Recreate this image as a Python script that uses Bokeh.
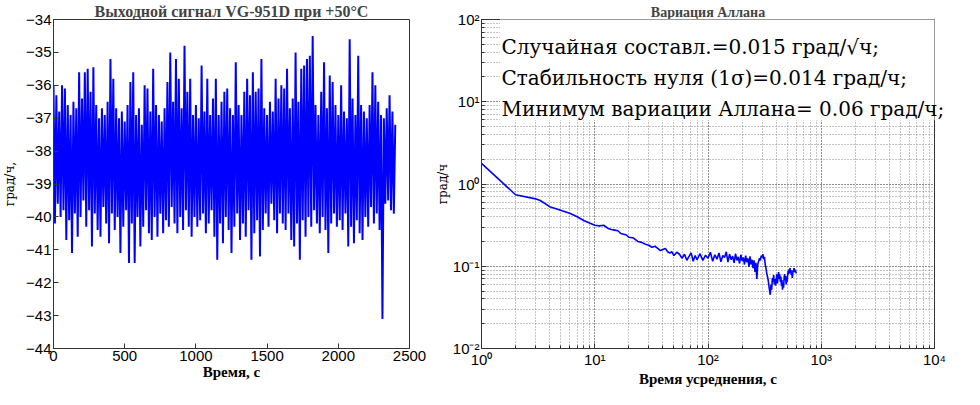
from bokeh.plotting import figure
from bokeh.layouts import row
from bokeh.models import SingleIntervalTicker, LogTicker, CustomJSTickFormatter, Range1d
from bokeh.core.properties import value
from bokeh.embed import file_html
from bokeh.resources import INLINE

# ---------------- data: output signal (left panel) ----------------
# upper excursions, every 20 s starting at 0 s
sig_high_t = list(range(0, 2401, 20))
sig_high = [
    -36.0, -36.3, -36.8, -36.0, -36.1, -36.6, -36.9, -36.5, -36.7, -35.6,
    -36.4, -35.6, -35.5, -36.2, -35.45, -36.6, -37.0, -36.7, -36.9, -36.5,
    -35.2, -35.8, -36.7, -37.0, -36.8, -37.1, -36.6, -35.9, -35.6, -36.9,
    -36.7, -37.2, -36.0, -36.1, -36.8, -35.5, -36.6, -36.9, -37.1, -36.7,
    -35.9, -35.0, -36.5, -35.2, -35.8, -36.7, -34.8, -36.2, -35.8, -36.9,
    -36.6, -37.0, -35.4, -36.8, -35.8, -36.9, -36.4, -35.8, -36.9, -36.5,
    -36.2, -36.1, -36.7, -36.9, -35.3, -36.6, -36.9, -36.2, -35.8, -36.3,
    -35.6, -36.2, -36.1, -35.2, -36.7, -36.9, -36.5, -36.8, -35.8, -36.4,
    -36.0, -36.1, -35.5, -36.7, -36.4, -35.0, -36.5, -35.5, -35.4, -35.2,
    -35.1, -34.5, -36.6, -36.9, -36.2, -35.3, -36.7, -35.7, -35.9, -36.6,
    -36.9, -36.0, -36.8, -37.0, -34.6, -36.4, -36.9, -35.1, -36.6, -36.8,
    -37.0, -36.6, -35.6, -36.0, -36.5, -36.9, -37.0, -36.7, -36.3, -36.8,
    -37.2,
]
# lower excursions, every 20 s starting at 10 s
sig_low_t = list(range(10, 2400, 20))
sig_low = [
    -40.2, -39.6, -40.0, -39.8, -40.7, -40.1, -41.1, -39.9, -40.6, -40.0,
    -39.5, -40.3, -39.8, -40.9, -39.9, -40.4, -40.6, -39.7, -40.2, -40.8,
    -39.9, -40.4, -40.0, -41.1, -40.3, -39.8, -41.4, -40.2, -41.4, -40.0,
    -40.9, -40.3, -39.8, -40.5, -40.7, -40.0, -40.6, -39.9, -40.5, -40.1,
    -40.3, -39.7, -40.2, -40.5, -40.0, -40.4, -39.8, -40.3, -40.6, -40.0,
    -40.3, -40.1, -39.9, -40.5, -40.2, -39.8, -40.6, -41.3, -40.2, -40.8,
    -40.0, -40.4, -41.1, -40.3, -39.9, -40.7, -40.2, -40.6, -39.8, -41.3,
    -40.5, -40.1, -41.2, -40.4, -39.9, -40.3, -39.6, -40.1, -40.5, -39.9,
    -40.2, -40.4, -39.9, -40.7, -40.9, -40.2, -41.3, -40.1, -40.6, -40.0,
    -40.3, -39.8, -40.2, -40.5, -40.0, -40.4, -41.1, -40.2, -39.9, -40.3,
    -40.1, -40.4, -39.9, -40.9, -40.3, -40.8, -40.1, -40.5, -40.7, -40.0,
    -40.3, -39.7, -40.2, -39.9, -40.4, -43.1, -39.6, -39.5, -39.8, -39.9,
]

# ---------------- data: Allan deviation (right panel) ----------------
tau = [1, 2, 3, 3.3, 4, 5, 6, 7, 8, 9, 10, 11, 12, 13, 14, 15, 16, 17, 18, 19,
       20, 22, 24, 26, 28, 30, 32, 34, 36, 38, 40, 42, 44, 46, 48, 50, 53, 56, 59, 62,
       65, 68, 71, 74, 77,
       80, 85, 90, 95, 100, 105, 110, 115, 120, 125, 130, 135, 140, 145, 150, 155,
       160, 165, 170, 175, 180, 185, 190, 195, 200, 205, 210, 215, 220, 225, 230,
       235, 240, 245, 250, 255, 260, 265, 270, 275, 280, 285, 290, 295, 300,
       305, 310, 315, 320, 325, 330, 335, 340, 345, 350, 355, 360, 365, 370, 375,
       380, 385, 390, 395, 400, 405, 410, 415, 420, 425, 430, 435, 440, 445, 450,
       455, 460, 465, 470, 475, 480, 485, 490, 495, 500, 505, 510, 515, 520, 525,
       530, 535, 540, 545, 550, 555, 560, 565, 570, 575, 580, 585, 590, 595, 600]
adev = [1.78, 0.74, 0.66, 0.63, 0.53, 0.48, 0.44, 0.40, 0.36, 0.335, 0.315, 0.31, 0.315,
        0.29, 0.28, 0.275, 0.27, 0.25, 0.245, 0.24,
        0.225, 0.22, 0.20, 0.195, 0.185, 0.18, 0.17, 0.175, 0.165, 0.155, 0.16, 0.165,
        0.15, 0.145, 0.15, 0.135, 0.148, 0.14, 0.125, 0.14,
        0.118, 0.132, 0.145, 0.115, 0.135,
        0.120, 0.142, 0.118, 0.136, 0.125, 0.148, 0.115, 0.138, 0.122, 0.145, 0.113,
        0.135, 0.128, 0.150, 0.112, 0.140,
        0.120, 0.133, 0.110, 0.142, 0.118, 0.130, 0.108, 0.138, 0.116, 0.128, 0.105,
        0.135, 0.112, 0.125, 0.098,
        0.132, 0.105, 0.120, 0.095, 0.118, 0.085, 0.110, 0.070, 0.105, 0.115, 0.125,
        0.118, 0.135, 0.128,
        0.140, 0.122, 0.130, 0.105, 0.095, 0.082, 0.075, 0.068, 0.058, 0.050, 0.045,
        0.060, 0.052, 0.072, 0.065,
        0.078, 0.060, 0.070, 0.058, 0.066, 0.080, 0.062, 0.072, 0.085, 0.070, 0.080,
        0.065, 0.075, 0.058, 0.068,
        0.052, 0.062, 0.055, 0.072, 0.080, 0.068, 0.076, 0.060, 0.070, 0.065, 0.078,
        0.088, 0.080, 0.092, 0.085,
        0.095, 0.082, 0.090, 0.078, 0.086, 0.072, 0.082, 0.090, 0.085, 0.095, 0.088,
        0.092, 0.084, 0.088, 0.082]

title_left = "Выходной сигнал VG-951D при +50°C"
title_right = "Вариация Аллана"
xlabel_left = "Время, с"
ylabel_left = "град/ч,"
xlabel_right = "Время усреднения, с"
ylabel_right = "град/ч"
notes = ["Случайная составл.=0.015 град/√ч;",
         "Стабильность нуля (1σ)=0.014 град/ч;",
         "Минимум вариации Аллана= 0.06 град/ч;"]
note_x = [1.5, 1.5, 1.5]
note_y = [46.0, 19.3, 8.25]

BLUE = "#0000ff"
SANS = "Liberation Sans"
SERIF = "Liberation Serif"
SERIF_REG = "DejaVu Serif"

# interleave highs and lows (time order)
pairs = sorted(list(zip(sig_high_t, sig_high)) + list(zip(sig_low_t, sig_low)))
sig_t = [a for a, b in pairs]
sig_v = [b for a, b in pairs]


def style_axis(ax):
    ax.major_label_text_font = SANS
    ax.major_label_text_font_size = "15px"
    ax.major_label_text_color = "black"
    ax.major_tick_in = 5
    ax.major_tick_out = 0
    ax.minor_tick_in = 3
    ax.minor_tick_out = 0
    ax.axis_line_color = "#333333"
    ax.major_tick_line_color = "#333333"
    ax.minor_tick_line_color = "#333333"
    ax.major_label_standoff = 2
    ax.axis_label_text_font = SERIF
    ax.axis_label_text_font_style = "bold"
    ax.axis_label_text_font_size = "15px"
    ax.axis_label_text_color = "black"
    ax.axis_label_standoff = 0


# ---------------- left panel ----------------
p1 = figure(width=432, height=389, x_range=Range1d(0, 2500), y_range=Range1d(-44, -34),
            output_backend="svg", toolbar_location=None,
            min_border_left=51, min_border_right=23, min_border_top=17, min_border_bottom=36)
p1.title.text = title_left
p1.title.align = "center"
p1.title.text_font = SERIF
p1.title.text_font_size = "16px"
p1.title.text_font_style = "bold"
p1.title.standoff = 0
p1.title.offset = 0
p1.outline_line_color = "#333333"
p1.grid.visible = False

p1.line(sig_t, sig_v, line_color=BLUE, line_width=2)

p1.xaxis.ticker = SingleIntervalTicker(interval=500, num_minor_ticks=0)
p1.yaxis.ticker = SingleIntervalTicker(interval=1, num_minor_ticks=0)
p1.xaxis.axis_label = xlabel_left
p1.yaxis.axis_label = ylabel_left
style_axis(p1.xaxis[0])
style_axis(p1.yaxis[0])
p1.yaxis[0].axis_label_text_font = SERIF_REG
p1.yaxis[0].axis_label_text_font_style = "normal"
p1.yaxis[0].axis_label_text_font_size = "12px"
p1.yaxis[0].axis_label_standoff = 6

# ---------------- right panel ----------------
p2 = figure(width=532, height=389, x_axis_type="log", y_axis_type="log",
            x_range=Range1d(1, 1e4), y_range=Range1d(1e-2, 1e2),
            output_backend="svg", toolbar_location=None,
            min_border_left=46, min_border_right=30, min_border_top=17, min_border_bottom=36)
p2.title.text = title_right
p2.title.align = "center"
p2.title.text_font = SERIF
p2.title.text_font_size = "14px"
p2.title.text_font_style = "bold"
p2.title.standoff = 0
p2.title.offset = 0
p2.outline_line_color = "#333333"

sup = CustomJSTickFormatter(code="""
const e = Math.round(Math.log10(tick));
const m = {"-":"\\u207b","0":"\\u2070","1":"\\u00b9","2":"\\u00b2","3":"\\u00b3","4":"\\u2074"};
let s = "";
for (const c of String(e)) { s += m[c]; }
return "10" + s;
""")
p2.xaxis.ticker = LogTicker(num_minor_ticks=10)
p2.yaxis.ticker = LogTicker(num_minor_ticks=10)
p2.xaxis.formatter = sup
p2.yaxis.formatter = sup
p2.xaxis.axis_label = xlabel_right
p2.yaxis.axis_label = ylabel_right
style_axis(p2.xaxis[0])
style_axis(p2.yaxis[0])
p2.yaxis[0].axis_label_text_font = SERIF_REG
p2.yaxis[0].axis_label_text_font_style = "normal"
p2.yaxis[0].axis_label_text_font_size = "12px"

for g in (p2.xgrid[0], p2.ygrid[0]):
    g.grid_line_color = "#777777"
    g.grid_line_dash = "1 2"
    g.grid_line_width = 1
    g.minor_grid_line_color = "#888888"
    g.minor_grid_line_dash = "1 2"
    g.minor_grid_line_width = 1

p2.line(tau, adev, line_color=BLUE, line_width=1.6)

# white panel behind the annotation text (spans from just left of the notes to the frame edge)
p2.quad(left=[note_x[0] * 0.97], right=[1e4], bottom=[note_y[-1] * 0.72], top=[1e2],
        fill_color="white", line_color=None, level="overlay")
p2.text(x=note_x, y=note_y, text=notes, text_font=value(SERIF_REG),
        text_font_size=value("20px"), text_color="black",
        text_baseline="alphabetic", text_align="left", level="overlay")

layout = row(p1, p2)
open("out.html", "w").write(file_html(layout, INLINE))
